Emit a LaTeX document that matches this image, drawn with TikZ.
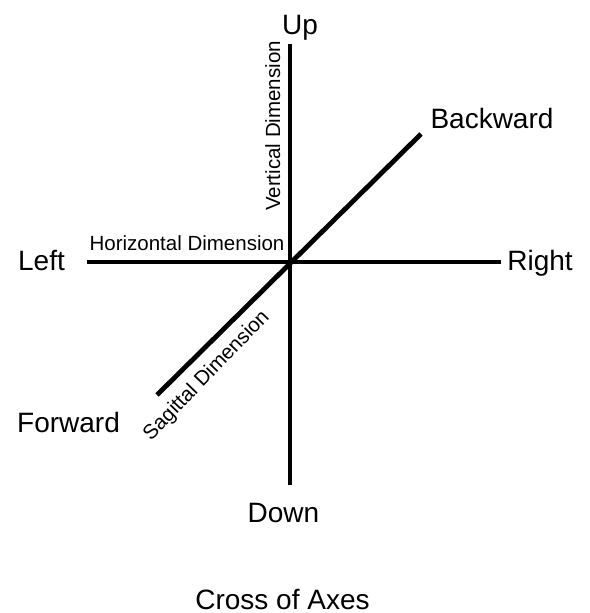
\documentclass[tikz,border=0pt]{standalone}
\usepackage{fontspec}
\setmainfont{Liberation Sans}
\begin{document}
\begin{tikzpicture}[x=1pt,y=1pt,
  axis/.style={line width=4.8pt},
  biglbl/.style={anchor=base,inner sep=0pt,font=\fontsize{28}{30}\selectfont},
  dimlbl/.style={anchor=base,inner sep=0pt,font=\fontsize{20.5}{22}\selectfont}]
\useasboundingbox (0,0) rectangle (589,613);
\coordinate (O) at (290,351);
\coordinate (up) at (290,569);
\coordinate (down) at (290,128);
\coordinate (left) at (87,351);
\coordinate (right) at (501,351);
\coordinate (back) at (421,479);
\coordinate (fwd) at (157,218);
\draw[axis] (up) -- (down);
\draw[axis] (left) -- (right);
\draw[axis] (fwd) -- (back);
\node[biglbl] (lup) at (300,578) {Up};
\node[biglbl] (lback) at (492,484) {Backward};
\node[biglbl] (lleft) at (41.5,342) {Left};
\node[biglbl] (lright) at (540,342) {Right};
\node[biglbl] (lfwd) at (68.5,180) {Forward};
\node[biglbl] (ldown) at (283.5,90) {Down};
\node[biglbl] (title) at (282.5,4) {Cross of Axes};
\node[dimlbl] (hdim) at (187,362.3) {Horizontal Dimension};
\node[dimlbl,rotate=90] (vdim) at (280,487) {Vertical Dimension};
\node[dimlbl,rotate=46] (sdim) at (210.6,233.4) {Sagittal Dimension};
\end{tikzpicture}
\end{document}
